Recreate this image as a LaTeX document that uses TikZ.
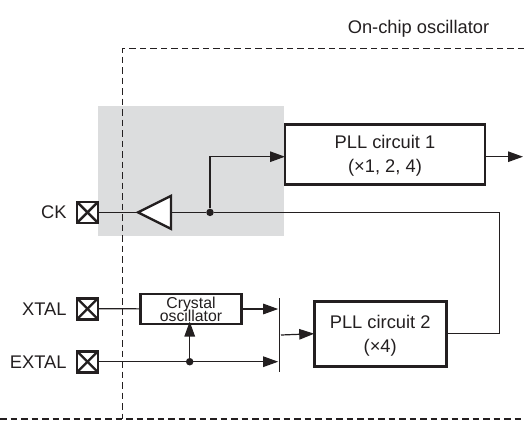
\documentclass[tikz,border=0pt]{standalone}
\usepackage{fontspec}
\setmainfont{Liberation Sans}
\usepackage{tikz}
\usetikzlibrary{arrows.meta,shapes.geometric}
\definecolor{inkC}{HTML}{231F20}
\definecolor{shadeC}{HTML}{DCDDDE}
\tikzset{
  wire/.style   ={draw=inkC, line width=1.2pt},
  sig/.style    ={wire, -{Triangle[length=15pt,width=10.5pt]}},
  blockS/.style ={draw=inkC, line width=2.8pt, fill=white, text=inkC, align=center, inner sep=0pt, outer sep=0pt, text depth=0pt, font=\fontsize{18.3}{24}\selectfont},
  oscS/.style   ={blockS, line width=2.4pt, font=\fontsize{15.8}{15}\selectfont},
  pad/.style    ={draw=inkC, line width=2.8pt, fill=white, minimum size=21pt, inner sep=0pt, outer sep=0pt},
  pinL/.style   ={left, text=inkC, inner sep=0pt, font=\fontsize{18.3}{22}\selectfont},
  dotS/.style   ={circle, fill=inkC, minimum size=7.5pt, inner sep=0pt},
  border/.style ={draw=inkC, line width=1.2pt, dash pattern=on 6.5pt off 4pt},
  bufS/.style   ={isosceles triangle, isosceles triangle stretches, shape border rotate=180, draw=inkC, line width=2.4pt, fill=white, minimum width=33pt, minimum height=33pt, inner sep=0pt, outer sep=0pt},
}
\begin{document}
\begin{tikzpicture}[x=1pt,y=-1pt]
  \useasboundingbox (0,0) rectangle (524,421);
  \fill[shadeC] (98,106) rectangle (284,236);
  \draw[border] (524,48.5) -- (122.5,48.5) -- (122.5,419);
  \draw[border] (0,419) -- (524,419);
  \node[text=inkC, font=\fontsize{18.3}{22}\selectfont] at (418.5,29) {On-chip oscillator};
  % pads on the left edge
  \node[pad] (ck)    at (87.5,212.4) {};
  \node[pad] (xtal)  at (87.5,308.7) {};
  \node[pad] (extal) at (87.5,361.7) {};
  \foreach \p in {ck,xtal,extal}{
    \draw[wire, line width=2.4pt] (\p.north west) -- (\p.south east);
    \draw[wire, line width=2.4pt] (\p.north east) -- (\p.south west);
  }
  \node[pinL] at (66.7,212.4) {CK};
  \node[pinL] at (66.7,308.7) {XTAL};
  \node[pinL] at (66.7,361.7) {EXTAL};
  % blocks
  \node[blockS, minimum width=200pt, minimum height=60pt] (pll1) at (385,154.2) {PLL circuit 1\\(×1, 2, 4)};
  \node[blockS, minimum width=132pt, minimum height=65pt] (pll2) at (380.2,333.7) {PLL circuit 2\\(×4)};
  \node[oscS, minimum width=101pt, minimum height=30pt] (osc) at (191,309) {Crystal\\[-2.3pt]oscillator};
  \node[bufS, anchor=apex] (buf) at (138,212.4) {};
  \node[dotS] (tap) at (210,212.4) {};
  \node[dotS] (tapx) at (189.7,361.7) {};
  \coordinate (barT) at (279.7,298.3);
  \coordinate (barB) at (279.7,371.7);
  \coordinate (barM) at (281,335);
  \coordinate (out)  at (523,156.7);
  \coordinate (turn) at (499.3,212.4);
  % connectors
  \draw[wire] (ck) -- (buf.apex);
  \draw[wire] (buf.lower side) -- (tap);
  \draw[wire] (tap) -- (turn) |- (pll2.east);
  \draw[sig] (tap) |- (pll1.west |- out);
  \draw[sig] (pll1.east |- out) -- (out);
  \draw[wire] (xtal) -- (osc);
  \draw[sig, shorten >=1.5pt] (osc.east) -- (barT |- osc.east);
  \draw[sig, shorten >=1.5pt] (extal) -- (barB |- extal);
  \draw[sig] (tapx) -- ([yshift=2.5pt]osc.south -| tapx);
  \draw[wire] (barT) -- (barB);
  \draw[sig] (barM) -- (pll2.west);
\end{tikzpicture}
\end{document}
